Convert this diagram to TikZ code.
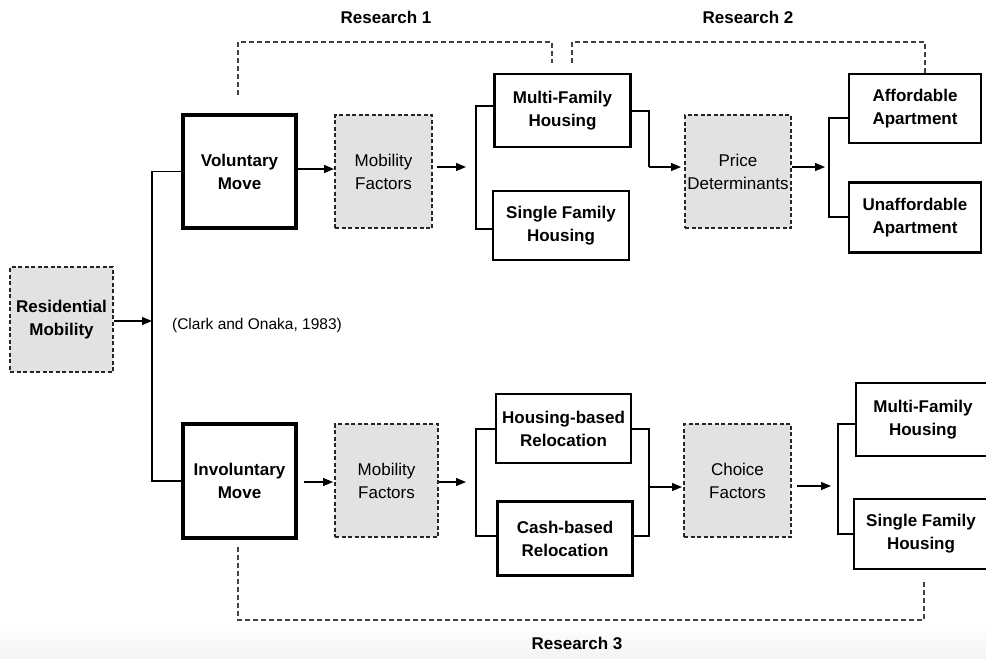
\documentclass[tikz,border=0pt]{standalone}
\usepackage{fontspec}
\setmainfont{Liberation Sans}
\usetikzlibrary{arrows.meta}
\definecolor{boxgray}{HTML}{E2E2E2}
\tikzset{
  x=1pt, y=-1pt,
  every node/.style={align=center, inner sep=0pt},
  txt/.style={font=\fontsize{17}{23}\selectfont\bfseries},
  thin txt/.style={font=\fontsize{17}{23}\selectfont},
  movebox/.style={draw, line width=3.2pt, txt, minimum width=113pt, minimum height=113pt},
  solidbox/.style={draw, line width=2.2pt, txt},
  graybox/.style={draw, fill=boxgray, line width=1.1pt, dash pattern=on 4pt off 2.5pt, draw=black!85, minimum height=113pt},
  conn/.style={line width=1.3pt},
  arr/.style={line width=1.3pt, -{Triangle[length=10pt,width=8pt]}},
  research/.style={line width=1.1pt, dash pattern=on 5pt off 3pt, black!75},
  rlabel/.style={font=\fontsize{17}{20}\selectfont\bfseries}
}
\begin{document}
\begin{tikzpicture}
\useasboundingbox (0,0) rectangle (986,659);
\shade[top color=white, bottom color=gray!9] (0,622) rectangle (986,659);

% nodes
\node[graybox, txt, minimum width=103pt, minimum height=105pt] (res) at (61.5,319.5) {Residential\\Mobility};
\node[movebox] (vol) at (239.5,171.5) {Voluntary\\Move};
\node[graybox, thin txt, minimum width=97pt] (mf1) at (383.5,171.5) {Mobility\\Factors};
\node[solidbox, minimum width=136pt, minimum height=73pt] (mfh1) at (562.5,110.5) {Multi-Family\\Housing};
\node[solidbox, minimum width=136pt, minimum height=69pt] (sfh1) at (561,225.5) {Single Family\\Housing};
\node[graybox, thin txt, minimum width=106pt] (price) at (738,171.5) {Price\\Determinants};
\node[solidbox, minimum width=132pt, minimum height=69pt] (aff) at (915,108.5) {Affordable\\Apartment};
\node[solidbox, minimum width=132pt, minimum height=70pt] (unaff) at (915,217.5) {Unaffordable\\Apartment};

\node[movebox, minimum height=114pt] (invol) at (239.5,481) {Involuntary\\Move};
\node[graybox, thin txt, minimum width=103pt] (mf2) at (386.5,480.5) {Mobility\\Factors};
\node[solidbox, minimum width=135pt, minimum height=69pt] (hbr) at (563.5,428.5) {Housing-based\\Relocation};
\node[solidbox, minimum width=135pt, minimum height=74pt] (cbr) at (565,538.5) {Cash-based\\Relocation};
\node[graybox, thin txt, minimum width=107pt] (choice) at (737.5,480.5) {Choice\\Factors};
\node[solidbox, minimum width=134pt, minimum height=73pt] (mfh2) at (923,419.5) {Multi-Family\\Housing};
\node[solidbox, minimum width=134pt, minimum height=70pt] (sfh2) at (921,534) {Single Family\\Housing};

\node[font=\fontsize{15.5}{18}\selectfont] (cite) at (257,325) {(Clark and Onaka, 1983)};
\node[rlabel] (r1) at (386,17) {Research 1};
\node[rlabel] (r2) at (748,17) {Research 2};
\node[rlabel] (r3) at (577,643) {Research 3};

% spine
\coordinate (sT) at (152,171.5);
\coordinate (sB) at (152,481);
\draw[conn] (vol.west) -- (sT) -- (sB) -- (invol.west);
\draw[arr] (res.east |- 0,321) -- (sT |- 0,321);

% upper row
\coordinate (a0) at (334,169);
\draw[arr] (vol.east |- a0) -- (a0);
\coordinate (a1s) at (437,167);
\coordinate (a1) at (466,167);
\draw[arr] (a1s) -- (a1);
\coordinate (b1a) at (476,106);
\coordinate (b1b) at (476,229);
\draw[conn] (b1a -| mfh1.west) -- (b1a) -- (b1b) -- (b1b -| sfh1.west);
\coordinate (c1a) at (649,111);
\coordinate (c1b) at (649,167);
\coordinate (a2) at (681,167);
\draw[conn] (c1a -| mfh1.east) -- (c1a) -- (c1b);
\draw[arr] (c1b) -- (a2);
\coordinate (a3) at (825,167);
\draw[arr] (price.east |- a3) -- (a3);
\coordinate (b2a) at (829,118);
\coordinate (b2b) at (829,217);
\draw[conn] (b2a -| aff.west) -- (b2a) -- (b2b) -- (b2b -| unaff.west);

% lower row
\coordinate (a4s) at (304,482);
\coordinate (a4) at (333,482);
\draw[arr] (a4s) -- (a4);
\coordinate (a5s) at (439,482);
\coordinate (a5) at (466,482);
\draw[arr] (a5s) -- (a5);
\coordinate (b3a) at (476,429);
\coordinate (b3b) at (476,536);
\draw[conn] (b3a -| hbr.west) -- (b3a) -- (b3b) -- (b3b -| cbr.west);
\coordinate (b4a) at (649,429);
\coordinate (b4b) at (649,536);
\coordinate (b4m) at (649,487);
\coordinate (a6) at (682,487);
\draw[conn] (b4a -| hbr.east) -- (b4a) -- (b4b) -- (b4b -| cbr.east);
\draw[arr] (b4m) -- (a6);
\coordinate (a7s) at (797,486);
\coordinate (a7) at (831,486);
\draw[arr] (a7s) -- (a7);
\coordinate (b5a) at (838,424);
\coordinate (b5b) at (838,534);
\draw[conn] (b5a -| mfh2.west) -- (b5a) -- (b5b) -- (b5b -| sfh2.west);

% research brackets
\coordinate (r1a) at (238,95);
\coordinate (r1b) at (238,42);
\coordinate (r1c) at (552,42);
\coordinate (r1d) at (552,63);
\draw[research] (r1a) -- (r1b) -- (r1c) -- (r1d);
\coordinate (r2a) at (572,63);
\coordinate (r2b) at (572,42);
\coordinate (r2c) at (925,42);
\draw[research] (r2a) -- (r2b) -- (r2c) -- (r2c |- aff.north);
\coordinate (r3a) at (238,547);
\coordinate (r3b) at (238,620);
\coordinate (r3c) at (924,620);
\coordinate (r3d) at (924,579);
\draw[research] (r3a) -- (r3b) -- (r3c) -- (r3d);
\end{tikzpicture}
\end{document}
